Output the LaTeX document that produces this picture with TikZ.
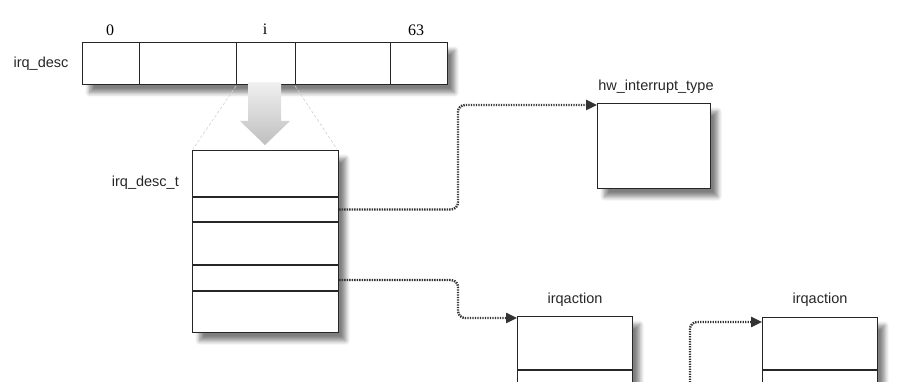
\documentclass[tikz,border=0pt]{standalone}
\usepackage{fontspec}
\setmainfont{Liberation Sans}
\newfontfamily\numfont{Liberation Serif}
\usetikzlibrary{arrows.meta,shadows.blur}
\begin{document}
\begin{tikzpicture}[x=1pt,y=-1pt,
  shadowed/.style={blur shadow={shadow xshift=7pt, shadow yshift=-8pt, shadow blur radius=4.5pt, shadow blur steps=8, shadow opacity=50}},
  box/.style={draw=black!85, line width=1.2pt, fill=white, inner sep=0pt, anchor=north west},
  cell/.style={draw=black!85, line width=1.3pt, fill=white, inner sep=0pt, anchor=north west, minimum height=42pt},
  lbl/.style={font=\fontsize{14.5}{16}\selectfont, inner sep=0pt, text=black!85},
  num/.style={font=\numfont\fontsize{16}{17}\selectfont, inner sep=0pt},
  divider/.style={draw=black!85, line width=1.2pt},
  conn/.style={draw=black!80, line width=2.4pt, dash pattern=on 1.4pt off 1.1pt, rounded corners=7pt, -{Triangle[length=11pt,width=10pt]}},
  faint/.style={draw=gray!35, densely dashed, line width=0.6pt}
]
\useasboundingbox (0,0) rectangle (898,382);
\clip (0,0) rectangle (898,382);

% irq_desc array
\node[box, shadowed, minimum width=365pt, minimum height=42pt] (arr) at (82,42) {};
\node[cell, minimum width=57pt] (c0) at (82,42) {};
\node[cell, minimum width=97pt] (c1) at (139,42) {};
\node[cell, minimum width=59pt] (ci) at (236,42) {};
\node[cell, minimum width=95pt] (c3) at (295,42) {};
\node[cell, minimum width=57pt] (c4) at (390,42) {};

\node[num] (n0) at (110,30) {0};
\node[num] (ni) at (265,29) {i};
\node[num] (n63) at (416,30) {63};
\node[lbl] (ldesc) at (41,64) {irq\_desc};

% faint guide lines
\draw[faint] (236,86) -- (193,149);
\draw[faint] (295,86) -- (337,149);

% big arrow
\shade[top color=gray!12, bottom color=gray!50]
  (248,82.5) -- (281,82.5) -- (281,121) -- (290,121) -- (265,145) -- (240,121) -- (248,121) -- cycle;

% irq_desc_t
\node[box, shadowed, minimum width=146pt, minimum height=182pt] (desct) at (192,150) {};
\draw[divider] (desct.west |- 0,197) -- (desct.east |- 0,197);
\draw[divider] (desct.west |- 0,222) -- (desct.east |- 0,222);
\draw[divider] (desct.west |- 0,265) -- (desct.east |- 0,265);
\draw[divider] (desct.west |- 0,291) -- (desct.east |- 0,291);
\node[lbl, anchor=east] (ldesct) at (179,183) {irq\_desc\_t};

% hw_interrupt_type
\node[box, shadowed, minimum width=113pt, minimum height=85pt] (hw) at (597,103) {};
\node[lbl] (lhw) at (656,87) {hw\_interrupt\_type};

% irqaction boxes
\node[box, shadowed, minimum width=115pt, minimum height=110pt] (ia1) at (517,316) {};
\draw[divider] (ia1.west |- 0,370) -- (ia1.east |- 0,370);
\node[lbl] (lia1) at (575,300) {irqaction};

\node[box, shadowed, minimum width=115pt, minimum height=110pt] (ia2) at (762,317) {};
\draw[divider] (ia2.west |- 0,370) -- (ia2.east |- 0,370);
\node[lbl] (lia2) at (820,300) {irqaction};

% connectors
\coordinate (r2) at (desct.east |- 0,209.5);
\coordinate (r4) at (desct.east |- 0,280);
\coordinate (k1) at (458,105);
\coordinate (k2) at (458,318);
\coordinate (s3) at (690,400);
\draw[conn] (r2) -| (k1) -- (hw.west |- k1);
\draw[conn] (r4) -| (k2) -- (ia1.west |- k2);
\draw[conn] (s3) |- (ia2.west |- 0,322);
\end{tikzpicture}
\end{document}
